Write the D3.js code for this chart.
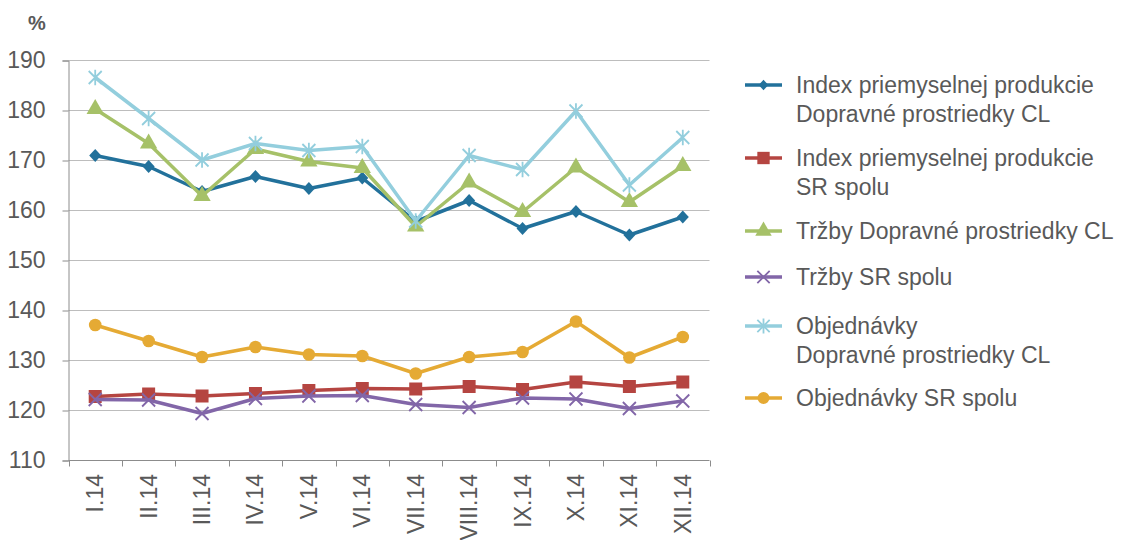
<!DOCTYPE html>
<html>
<head>
<meta charset="utf-8">
<script src="https://cdn.jsdelivr.net/npm/d3@7"></script>
<style>
  body { margin: 0; background: #fff; }
  text { font-family: "Liberation Sans", Arial, sans-serif; fill: #595959; }
</style>
</head>
<body>
<div id="chart"></div>
<script>
// months
var months = ["I.14", "II.14", "III.14", "IV.14", "V.14", "VI.14",
              "VII.14", "VIII.14", "IX.14", "X.14", "XI.14", "XII.14"];

var yTicks = [110, 120, 130, 140, 150, 160, 170, 180, 190];

// series
var ippDopravne = [170.9, 168.7, 163.7, 166.7, 164.3, 166.4, 157.7, 161.9, 156.3, 159.7, 155.0, 158.6];
var ippSR       = [122.7, 123.2, 122.8, 123.3, 123.9, 124.3, 124.2, 124.7, 124.1, 125.6, 124.7, 125.6];
var trzbyDopr   = [180.2, 173.3, 162.8, 172.2, 169.7, 168.4, 156.7, 165.5, 159.6, 168.5, 161.6, 168.8];
var trzbySR     = [122.1, 122.0, 119.3, 122.3, 122.8, 122.9, 121.1, 120.5, 122.4, 122.2, 120.3, 121.8];
var objDopr     = [186.5, 178.3, 170.0, 173.3, 171.9, 172.7, 157.8, 170.9, 168.1, 179.8, 165.0, 174.5];
var objSR       = [137.0, 133.8, 130.6, 132.6, 131.1, 130.8, 127.3, 130.6, 131.6, 137.7, 130.5, 134.6];

var series = [
  { name: ["Index priemyselnej produkcie", "Dopravné prostriedky CL"], values: ippDopravne, color: "#22719b", marker: "diamond" },
  { name: ["Index priemyselnej produkcie", "SR spolu"], values: ippSR, color: "#b54541", marker: "square" },
  { name: ["Tržby Dopravné prostriedky CL"], values: trzbyDopr, color: "#a6c168", marker: "triangle" },
  { name: ["Tržby SR spolu"], values: trzbySR, color: "#8266a8", marker: "times" },
  { name: ["Objednávky", "Dopravné prostriedky CL"], values: objDopr, color: "#93cedd", marker: "asterisk" },
  { name: ["Objednávky SR spolu"], values: objSR, color: "#e5aa34", marker: "circle" }
];

var width = 1122,
    height = 540;

var svg = d3.select("#chart").append("svg")
    .attr("width", width)
    .attr("height", height);

var x = d3.scaleBand()
    .domain(months)
    .range([68.5, 709.5]);

var y = d3.scaleLinear()
    .domain([110, 190])
    .range([460, 60]);

// gridlines
svg.append("g")
    .selectAll("line")
    .data(yTicks.slice(1))
  .enter().append("line")
    .attr("x1", 68.5)
    .attr("x2", 709.5)
    .attr("y1", function(d) { return Math.round(y(d)) + 0.5; })
    .attr("y2", function(d) { return Math.round(y(d)) + 0.5; })
    .attr("stroke", "#bdbdbd")
    .attr("stroke-width", 1.2);

// y axis
var yAxis = svg.append("g")
    .attr("transform", "translate(68.5,0.5)")
    .call(d3.axisLeft(y).tickValues(yTicks).tickSize(6).tickPadding(17));
yAxis.select(".domain").attr("stroke", "#8c8c8c");
yAxis.selectAll(".tick line").attr("stroke", "#8c8c8c");
yAxis.selectAll(".tick text")
    .style("font-size", "23px")
    .attr("fill", "#595959")
    .attr("font-family", "'Liberation Sans', Arial, sans-serif");

// x axis
var xTickPos = months.map(function(d) { return x(d); }).concat([709.5]);
var xAxis = svg.append("g");
xAxis.append("line")
    .attr("x1", 68.5).attr("x2", 709.5)
    .attr("y1", 460.5).attr("y2", 460.5)
    .attr("stroke", "#8c8c8c");
xAxis.selectAll("line.tick")
    .data(xTickPos)
  .enter().append("line")
    .attr("class", "tick")
    .attr("x1", function(d) { return Math.round(d) + 0.5; })
    .attr("x2", function(d) { return Math.round(d) + 0.5; })
    .attr("y1", 460.5).attr("y2", 466.5)
    .attr("stroke", "#8c8c8c");
xAxis.selectAll("text")
    .data(months)
  .enter().append("text")
    .attr("transform", function(d) {
      return "translate(" + (x(d) + x.bandwidth() / 2 + 8) + ",474) rotate(-90)";
    })
    .attr("text-anchor", "end")
    .style("font-size", "23px")
    .text(function(d) { return d; });

// unit
svg.append("text")
    .attr("x", 37)
    .attr("y", 30)
    .attr("text-anchor", "middle")
    .style("font-size", "20px")
    .style("font-weight", "bold")
    .text("%");

// markers
function markerPath(type, s) {
  var h = s / 2;
  if (type === "times")
    return "M" + (-h) + "," + (-h) + "L" + h + "," + h + "M" + (-h) + "," + h + "L" + h + "," + (-h);
  if (type === "asterisk")
    return "M" + (-h) + "," + (-h) + "L" + h + "," + h + "M" + (-h) + "," + h + "L" + h + "," + (-h) +
           "M0," + (-h * 1.2) + "L0," + (h * 1.2);
  if (type === "diamond")
    return "M0," + (-h * 1.1) + "L" + h + ",0L0," + (h * 1.1) + "L" + (-h) + ",0Z";
  return null;
}

var symbolTypes = {
  square: d3.symbolSquare,
  triangle: d3.symbolTriangle,
  circle: d3.symbolCircle
};
var symbolSizes = { square: 169, triangle: 130, circle: 125 };

function drawMarker(g, s, scale) {
  if (s.marker === "times" || s.marker === "asterisk") {
    g.append("path")
        .attr("d", markerPath(s.marker, 13 * scale))
        .attr("fill", "none")
        .attr("stroke", s.color)
        .attr("stroke-width", 1.8);
  } else if (s.marker === "diamond") {
    g.append("path")
        .attr("d", markerPath("diamond", 12 * scale))
        .attr("fill", s.color);
  } else {
    g.append("path")
        .attr("d", d3.symbol().type(symbolTypes[s.marker]).size(symbolSizes[s.marker] * scale * scale)())
        .attr("fill", s.color);
  }
}

var line = d3.line()
    .x(function(d, i) { return x(months[i]) + x.bandwidth() / 2; })
    .y(function(d) { return y(d); });

var plot = svg.append("g");

series.forEach(function(s) {
  var g = plot.append("g");
  g.append("path")
      .datum(s.values)
      .attr("d", line)
      .attr("fill", "none")
      .attr("stroke", s.color)
      .attr("stroke-width", 3.5)
      .attr("stroke-linejoin", "round");

  g.selectAll("g.pt")
      .data(s.values)
    .enter().append("g")
      .attr("class", "pt")
      .attr("transform", function(d, i) {
        return "translate(" + (x(months[i]) + x.bandwidth() / 2) + "," + y(d) + ")";
      })
      .each(function() { drawMarker(d3.select(this), s, 1); });
});

// legend
var legendY = [85, 158, 231, 277, 326, 398];
var legend = svg.append("g");

series.forEach(function(s, i) {
  var g = legend.append("g")
      .attr("transform", "translate(745," + legendY[i] + ")");
  g.append("line")
      .attr("x1", 0).attr("x2", 37)
      .attr("stroke", s.color)
      .attr("stroke-width", 3.5);
  var m = g.append("g").attr("transform", "translate(18.5,0)");
  drawMarker(m, s, s.marker === "diamond" ? 0.8 : 0.95);
  var t = g.append("text")
      .attr("x", 51)
      .attr("y", 8)
      .style("font-size", "23px");
  s.name.forEach(function(n, j) {
    t.append("tspan")
        .attr("x", 51)
        .attr("dy", j === 0 ? 0 : 28.5)
        .text(n);
  });
});
</script>
</body>
</html>
